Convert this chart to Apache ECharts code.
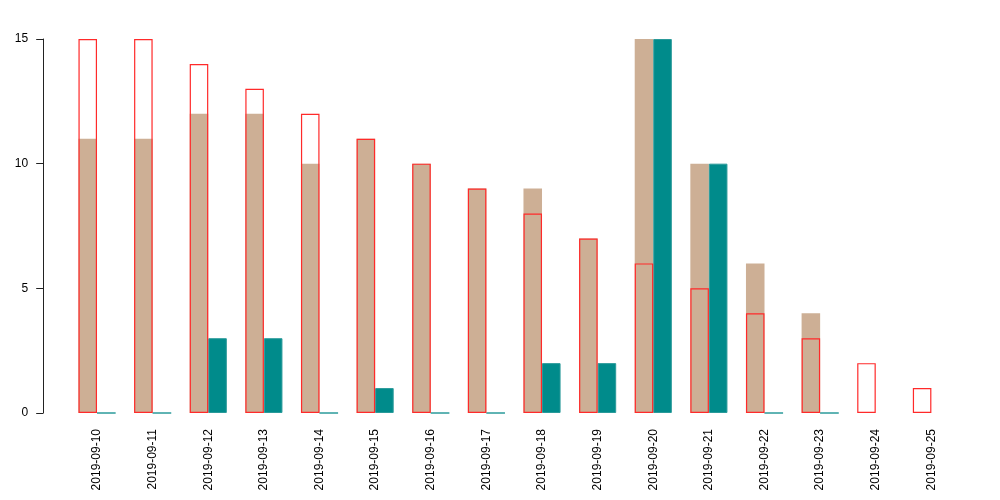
<!DOCTYPE html>
<html><head><meta charset="utf-8">
<script src="https://cdn.jsdelivr.net/npm/echarts@6/dist/echarts.min.js"></script>
<style>html,body{margin:0;padding:0;background:#fff}#c{width:1000px;height:500px}</style>
</head><body><div id="c"></div>
<script>
const categories = ['2019-09-10','2019-09-11','2019-09-12','2019-09-13','2019-09-14','2019-09-15','2019-09-16','2019-09-17','2019-09-18','2019-09-19','2019-09-20','2019-09-21','2019-09-22','2019-09-23','2019-09-24','2019-09-25'];
const tanValues = [11,11,12,12,10,11,10,9,9,7,15,10,6,4,null,null];
const tealValues = [0,0,3,3,0,1,0,0,2,2,15,10,0,0,null,null];
const redValues = [15,15,14,13,12,11,10,9,8,7,6,5,4,3,2,1];
const yTicks = [0,5,10,15];

const BW = 18.55;
const chart = echarts.init(document.getElementById('c'), null, {renderer:'canvas'});
chart.setOption({
  animation:false,
  backgroundColor:'#fff',
  textStyle:{fontFamily:'Liberation Sans, Arial, sans-serif'},
  grid:{left:69.2, right:40.8, top:39, bottom:87},
  xAxis:[
    {type:'category', data:categories, axisLine:{show:false}, axisTick:{show:false}, splitLine:{show:false},
     axisLabel:{rotate:90, interval:0, margin:16, fontSize:12, color:'#000', fontFamily:'Liberation Sans, Arial, sans-serif'}},
    {type:'category', data:categories, show:false}
  ],
  yAxis:{type:'value', min:yTicks[0], max:yTicks[yTicks.length-1], interval:5, offset:26,
    axisLine:{show:true, lineStyle:{color:'#222', width:1}},
    axisTick:{show:true, length:7, lineStyle:{color:'#222'}},
    splitLine:{show:false},
    axisLabel:{margin:15, fontSize:12, color:'#000', fontFamily:'Liberation Sans, Arial, sans-serif'}},
  series:[
    {type:'bar', xAxisIndex:0, data:tanValues, barWidth:BW, barGap:'0%', itemStyle:{color:'#CDAF95'}, z:2},
    {type:'bar', xAxisIndex:0, data:tealValues, barWidth:BW, barGap:'0%', itemStyle:{color:'#008B8B', borderColor:'#2a9a9a', borderWidth:1}, z:2},
    {type:'bar', xAxisIndex:1, data:redValues, barWidth:BW, barGap:'0%', itemStyle:{color:'rgba(0,0,0,0)', borderColor:'#FF2a2a', borderWidth:1.2}, z:5},
    {type:'bar', xAxisIndex:1, data:categories.map(()=>null), barWidth:BW, barGap:'0%', z:1}
  ]
});
</script></body></html>
